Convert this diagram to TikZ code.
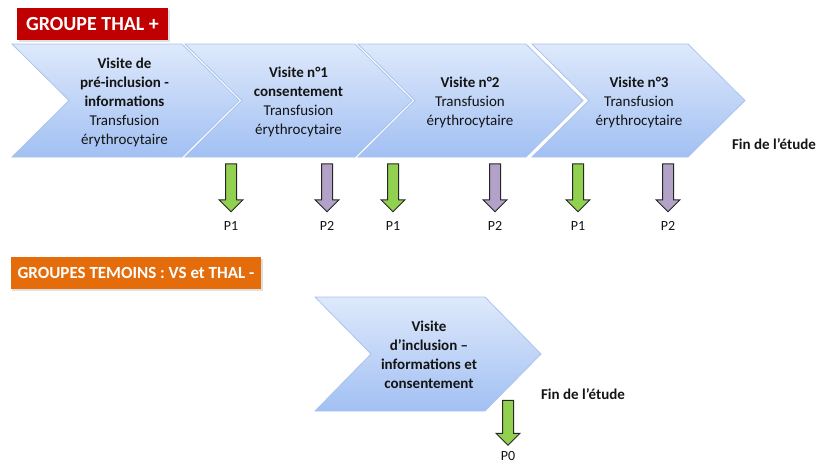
\documentclass[tikz,border=0pt]{standalone}
\usepackage{fontspec}
\setmainfont{Carlito}
\usetikzlibrary{positioning,shapes.arrows,shadows}

\definecolor{chevtop}{RGB}{222,233,251}
\definecolor{chevbot}{RGB}{162,192,243}
\definecolor{chevline}{RGB}{170,196,238}
\definecolor{thalred}{RGB}{192,0,0}
\definecolor{temoinorange}{RGB}{228,108,10}
\definecolor{pgreen}{RGB}{146,208,80}
\definecolor{ppurple}{RGB}{179,162,199}
\definecolor{txtcol}{RGB}{20,20,20}

% chevron: left x, top y, bottom y, top width, point depth
\newcommand{\chevron}[5]{%
  \path[chevron] (#1,#2) -- (#1+#4,#2) -- (#1+#4+#5,{(#2+#3)/2}) -- (#1+#4,#3)
    -- (#1,#3) -- (#1+#5,{(#2+#3)/2}) -- cycle;}

\tikzset{
  chevron/.style={top color=chevtop, bottom color=chevbot, draw=chevline, line width=0.8pt},
  visit/.style={align=center, text=txtcol, font=\fontsize{15}{19}\selectfont},
  grouptitle/.style={text=white, font=\bfseries\fontsize{20}{24}\selectfont,
    minimum height=32pt, inner xsep=7pt,
    drop shadow={opacity=0.25, shadow xshift=1.5pt, shadow yshift=-1.5pt}},
  parrow/.style={single arrow, draw=black!85, line width=1pt, rotate=-90,
    minimum height=48pt, single arrow head extend=6.5pt,
    inner xsep=0pt, inner ysep=5pt},
  plabel/.style={text=txtcol, inner sep=0pt, font=\fontsize{14}{16}\selectfont},
  fin/.style={text=txtcol, font=\bfseries\fontsize{15}{18}\selectfont}
}

\begin{document}
\begin{tikzpicture}[x=1pt,y=-1pt]
\useasboundingbox (0,0) rectangle (818,464);

% groupe THAL +
\node[grouptitle, fill=thalred, minimum width=151pt] (thal) at (92.5,24) {GROUPE THAL +};

\chevron{12}{44}{157}{170}{57}
\chevron{185}{44}{157}{170}{57}
\chevron{358}{44}{157}{168}{57}
\chevron{532}{44}{157}{156}{57}

\node[visit] (v0) at (124.5,102) {\textbf{Visite de}\\\textbf{pré-inclusion -}\\\textbf{informations}\\Transfusion\\érythrocytaire};
\node[visit] (v1) at (298.5,102) {\textbf{Visite n°1}\\\textbf{consentement}\\Transfusion\\érythrocytaire};
\node[visit] (v2) at (470,102) {\textbf{Visite n°2}\\Transfusion\\érythrocytaire};
\node[visit] (v3) at (639,102) {\textbf{Visite n°3}\\Transfusion\\érythrocytaire};

\node[fin] (fin1) at (774,144) {Fin de l’étude};

\foreach \x/\c/\p [count=\i] in {231/pgreen/P1, 327/ppurple/P2, 393/pgreen/P1,
    495/ppurple/P2, 578/pgreen/P1, 668/ppurple/P2} {
  \node[parrow, fill=\c] (a\i) at (\x,185) {};
  \node[plabel, below=9pt of a\i.tip] (p\i) {\p};
}

% groupes temoins
\node[grouptitle, fill=temoinorange, minimum width=250pt,
  font=\bfseries\fontsize{17}{20}\selectfont] (temoin) at (136,273) {GROUPES TEMOINS : VS et THAL -};

\chevron{315}{297}{411}{170}{56}
\node[visit] (v5) at (429,355) {\textbf{Visite}\\\textbf{d’inclusion –}\\\textbf{informations et}\\\textbf{consentement}};

\node[fin] (fin2) at (583,394) {Fin de l’étude};

\node[parrow, fill=pgreen, minimum height=45pt] (a0) at (508,420) {};
\node[plabel, below=5pt of a0.tip] (p0) {P0};
\end{tikzpicture}
\end{document}
